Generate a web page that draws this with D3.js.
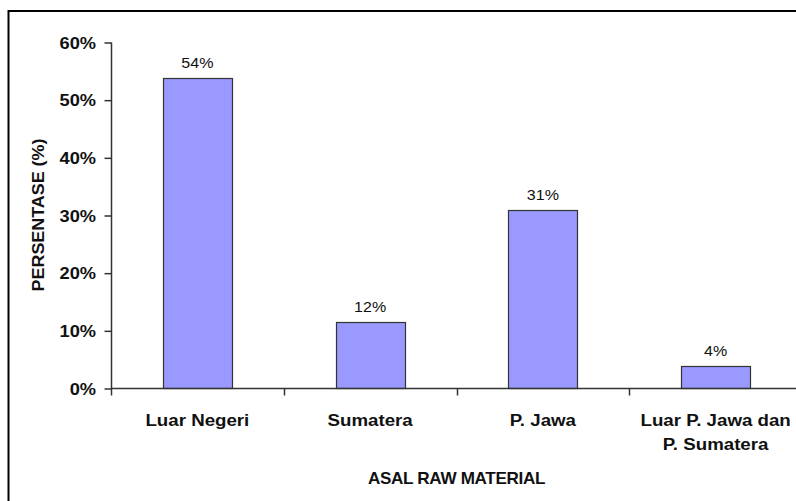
<!DOCTYPE html>
<html>
<head>
<meta charset="utf-8">
<script src="https://cdn.jsdelivr.net/npm/d3@7"></script>
<style>
  body { margin: 0; background: #fff; }
  svg { display: block; font-family: "Liberation Sans", Arial, sans-serif; }
</style>
</head>
<body>
<div id="chart"></div>
<script>
const categories = ["Luar Negeri", "Sumatera", "P. Jawa", "Luar P. Jawa dan|P. Sumatera"];
const values = [53.8, 11.5, 30.9, 3.9];
const yTicks = [0, 10, 20, 30, 40, 50, 60];

let width = 796;
let height = 501;
let margin = {top: 42, right: -6, bottom: 113, left: 111};

let barFill = "#9999FF";
let axisColor = "#333";

const svg = d3.select("#chart").append("svg")
  .attr("width", width)
  .attr("height", height);

// outer frame (right/bottom edges fall outside the picture)
svg.append("rect")
  .attr("x", 8.5).attr("y", 11)
  .attr("width", 820).attr("height", 520)
  .attr("fill", "none")
  .attr("stroke", "#000")
  .attr("stroke-width", 2);

const x = d3.scaleBand()
  .domain(categories)
  .range([margin.left, width - margin.right])
  .paddingInner(0.6)
  .paddingOuter(0.3);

const y = d3.scaleLinear()
  .domain([0, 60])
  .range([height - margin.bottom, margin.top]);

// bars
svg.append("g")
  .selectAll("rect")
  .data(values)
  .enter().append("rect")
    .attr("x", (d, i) => Math.round(x(categories[i])) + 0.5)
    .attr("y", d => Math.round(y(d)) + 0.5)
    .attr("width", Math.round(x.bandwidth()))
    .attr("height", d => Math.round(y(0)) - Math.round(y(d)))
    .attr("fill", barFill)
    .attr("stroke", axisColor)
    .attr("stroke-width", 1.2);

// value labels
svg.append("g")
  .selectAll("text")
  .data(values)
  .enter().append("text")
    .attr("transform", (d, i) => `translate(${x(categories[i]) + x.bandwidth() / 2},${y(d) - 9.5}) scale(1.07,1)`)
    .attr("text-anchor", "middle")
    .style("font-size", "15px")
    .attr("fill", "#111")
    .text(d => Math.round(d) + "%");

// y axis
const yAxis = d3.axisLeft(y)
  .tickValues(yTicks)
  .tickSize(7)
  .tickPadding(9)
  .tickFormat(d => d + "%");

const gy = svg.append("g")
  .attr("transform", `translate(${margin.left + 0.5},0.5)`)
  .call(yAxis);
gy.select(".domain").attr("stroke", axisColor).attr("stroke-width", 1.5)
  .attr("d", `M0,${y(60)}V${y(0)}`);
gy.selectAll(".tick line").attr("stroke", axisColor).attr("stroke-width", 1.5);
gy.selectAll(".tick text")
  .attr("fill", "#111")
  .style("font-size", "16px")
  .style("font-weight", "bold")
  .attr("dy", "0.36em")
  .attr("transform", "scale(1.14,1)")
  .attr("x", -15.5 / 1.14);

// x axis: ticks sit on the category boundaries
const x0 = margin.left;
const step = x.step();
const gx = svg.append("g").attr("transform", `translate(0,${Math.round(y(0)) + 0.5})`);
gx.append("line")
  .attr("x1", x0).attr("x2", width + 10)
  .attr("stroke", axisColor).attr("stroke-width", 1.5);
gx.selectAll("line.tk")
  .data(d3.range(categories.length))
  .enter().append("line")
    .attr("class", "tk")
    .attr("x1", i => Math.round(x0 + i * step) + 0.5)
    .attr("x2", i => Math.round(x0 + i * step) + 0.5)
    .attr("y1", 0).attr("y2", 7)
    .attr("stroke", axisColor).attr("stroke-width", 1.5);

const catText = gx.selectAll("text.cat")
  .data(categories)
  .enter().append("text")
    .attr("class", "cat")
    .attr("transform", d => `translate(${x(d) + x.bandwidth() / 2},37) scale(1.1,1)`)
    .attr("text-anchor", "middle")
    .attr("fill", "#111")
    .style("font-size", "17px")
    .style("font-weight", "bold");
catText.selectAll("tspan")
  .data(d => d.split("|"))
  .enter().append("tspan")
    .attr("x", 0)
    .attr("dy", (d, i) => i === 0 ? 0 : 25)
    .text(d => d);

// axis titles
svg.append("text")
  .attr("transform", `translate(${x0 + 2 * step},484) scale(1.07,1)`)
  .attr("text-anchor", "middle")
  .attr("fill", "#111")
  .style("font-size", "16px")
  .style("font-weight", "bold")
  .style("letter-spacing", "-0.3px")
  .text("ASAL RAW MATERIAL");

svg.append("text")
  .attr("transform", `translate(43.5,${(y(0) + y(60)) / 2}) rotate(-90) scale(1.12,1)`)
  .attr("text-anchor", "middle")
  .attr("fill", "#111")
  .style("font-size", "16px")
  .style("font-weight", "bold")
  .text("PERSENTASE (%)");
</script>
</body>
</html>
